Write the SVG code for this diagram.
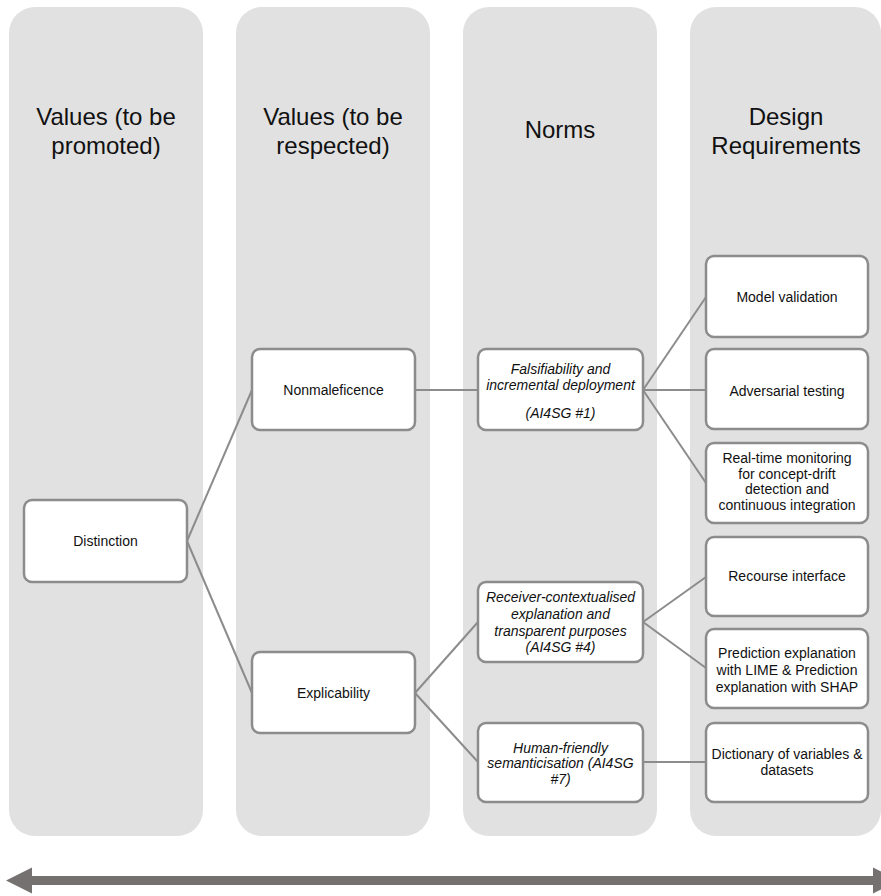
<svg xmlns="http://www.w3.org/2000/svg" width="881" height="896" viewBox="0 0 881 896">
<defs>
<style>
.col{fill:#e1e1e1;}
.hdr{font-family:"Liberation Sans",Arial,sans-serif;font-size:24px;fill:#111;text-anchor:middle;}
.box{fill:#fff;stroke:#8c8c8c;stroke-width:2.5;}
.t{font-family:"Liberation Sans",Arial,sans-serif;font-size:14px;fill:#111;text-anchor:middle;}
.ti{font-family:"Liberation Sans",Arial,sans-serif;font-size:14px;font-style:italic;fill:#111;text-anchor:middle;}
.con{stroke:#8c8c8c;stroke-width:2;fill:none;}
</style>
</defs>
<rect width="881" height="896" fill="#fff"/>
<g id="columns">
<g id="col-promoted">
<rect class="col" x="9" y="7" width="194" height="829" rx="26"/>
<text class="hdr" x="106" y="125">Values (to be</text>
<text class="hdr" x="106" y="154">promoted)</text>
</g>
<g id="col-respected">
<rect class="col" x="236" y="7" width="194" height="829" rx="26"/>
<text class="hdr" x="333" y="125">Values (to be</text>
<text class="hdr" x="333" y="154">respected)</text>
</g>
<g id="col-norms">
<rect class="col" x="463" y="7" width="194" height="829" rx="26"/>
<text class="hdr" x="560" y="138">Norms</text>
</g>
<g id="col-design">
<rect class="col" x="690" y="7" width="191" height="829" rx="26"/>
<text class="hdr" x="786" y="125">Design</text>
<text class="hdr" x="786" y="154">Requirements</text>
</g>
</g>
<g id="connectors">
<line class="con" x1="187" y1="541" x2="252" y2="390"/>
<line class="con" x1="187" y1="541" x2="252" y2="693"/>
<line class="con" x1="415" y1="390" x2="478" y2="390"/>
<line class="con" x1="415" y1="693" x2="478" y2="622"/>
<line class="con" x1="415" y1="693" x2="478" y2="762"/>
<line class="con" x1="643" y1="390" x2="706" y2="297"/>
<line class="con" x1="643" y1="390" x2="706" y2="390"/>
<line class="con" x1="643" y1="390" x2="706" y2="483"/>
<line class="con" x1="643" y1="622" x2="706" y2="577"/>
<line class="con" x1="643" y1="622" x2="706" y2="668"/>
<line class="con" x1="643" y1="762" x2="706" y2="762"/>
</g>
<g id="node-distinction">
<rect class="box" x="24" y="500" width="163" height="82" rx="8"/>
<text class="t" x="105.5" y="546">Distinction</text>
</g>
<g id="node-nonmaleficence">
<rect class="box" x="252" y="349" width="163" height="81" rx="8"/>
<text class="t" x="333.5" y="395">Nonmaleficence</text>
</g>
<g id="node-explicability">
<rect class="box" x="252" y="652" width="163" height="81" rx="8"/>
<text class="t" x="333.5" y="698">Explicability</text>
</g>
<g id="node-falsifiability">
<rect class="box" x="478" y="349" width="165" height="81" rx="8"/>
<text class="ti" x="560.5" y="374">Falsifiability and</text>
<text class="ti" x="560.5" y="390">incremental deployment</text>
<text class="ti" x="560.5" y="418">(AI4SG #1)</text>
</g>
<g id="node-receiver">
<rect class="box" x="478" y="582" width="165" height="80" rx="8"/>
<text class="ti" x="560.5" y="602">Receiver-contextualised</text>
<text class="ti" x="560.5" y="619">explanation and</text>
<text class="ti" x="560.5" y="636">transparent purposes</text>
<text class="ti" x="560.5" y="652">(AI4SG #4)</text>
</g>
<g id="node-human">
<rect class="box" x="478" y="723" width="165" height="79" rx="8"/>
<text class="ti" x="560.5" y="753">Human-friendly</text>
<text class="ti" x="560.5" y="768">semanticisation (AI4SG</text>
<text class="ti" x="560.5" y="784">#7)</text>
</g>
<g id="node-model-validation">
<rect class="box" x="706" y="256" width="162" height="81" rx="8"/>
<text class="t" x="787" y="302">Model validation</text>
</g>
<g id="node-adversarial">
<rect class="box" x="706" y="349" width="162" height="80" rx="8"/>
<text class="t" x="787" y="396">Adversarial testing</text>
</g>
<g id="node-realtime">
<rect class="box" x="706" y="443" width="162" height="80" rx="8"/>
<text class="t" x="787" y="463">Real-time monitoring</text>
<text class="t" x="787" y="479">for concept-drift</text>
<text class="t" x="787" y="494">detection and</text>
<text class="t" x="787" y="510">continuous integration</text>
</g>
<g id="node-recourse">
<rect class="box" x="706" y="537" width="162" height="79" rx="8"/>
<text class="t" x="787" y="581">Recourse interface</text>
</g>
<g id="node-prediction">
<rect class="box" x="706" y="629" width="162" height="79" rx="8"/>
<text class="t" x="787" y="658">Prediction explanation</text>
<text class="t" x="787" y="675">with LIME &amp; Prediction</text>
<text class="t" x="787" y="692">explanation with SHAP</text>
</g>
<g id="node-dictionary">
<rect class="box" x="706" y="723" width="162" height="79" rx="8"/>
<text class="t" x="787" y="759">Dictionary of variables &amp;</text>
<text class="t" x="787" y="775">datasets</text>
</g>
<g id="axis-arrow">
<polygon fill="#767171" points="6,880.5 32,867.5 32,876 873,876 873,867.5 899,880.5 873,893.5 873,885 32,885 32,893.5"/>
</g>
</svg>
